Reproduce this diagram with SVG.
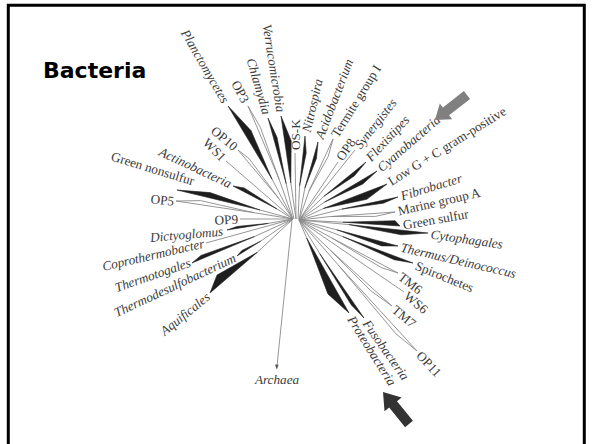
<svg xmlns="http://www.w3.org/2000/svg" width="592" height="444" viewBox="0 0 592 444">
<style>
.t{font-family:"Liberation Serif","DejaVu Serif",serif;font-size:13.2px;fill:#3a3a3a}
.i{font-style:italic}
.e{text-anchor:end}
.ln{stroke:#8a8a8a;stroke-width:0.9;fill:none}
.bw{fill:#1e1e1e;stroke:#1e1e1e;stroke-width:0.6;stroke-linejoin:round}
.ow{fill:#fff;stroke:#8a8a8a;stroke-width:0.9;stroke-linejoin:round}
</style>
<rect x="0" y="0" width="592" height="444" fill="#fff"/>
<path d="M8.3,444 V5.3 H584.3 V444" fill="none" stroke="#000" stroke-width="3"/>
<text x="43" y="78" font-family="'DejaVu Sans',sans-serif" font-weight="bold" font-size="22" fill="#000">Bacteria</text>

<g id="connectors">
  <g class="ln">
    <path d="M293,219L206,243M293,219L240,219M293,219L226,161M296,219L295,153M299,220L338,162M299,220L355,150M299,220L404,292M292,220L277,366"/>
    <path d="M293,219L257.3,252.3M293,219L260.6,241.2M293,219L254.4,236.6M293,219L268.4,223.4M293,219L260,210M293,219L277,209M293,219L272.2,179.5M294,219L286.2,183.7M296,219L290.8,183M298,219L299.6,185.8M299,220L304.8,188.2M299,220L324,196.2M299,220L324.4,202.2M299,220L323.3,208.5M299,220L341.9,209.1M299,220L342.8,222.2M299,220L348.8,224.6M299,220L336.8,229.8M299,220L342.8,236.6M299,220L319.8,253.7M299,220L306.6,237.8"/>
    <path d="M293,219L254,212.7M293,219L278.6,198.3M293,219L279.2,179.5M299,220L309,191M299,220L330.6,216.5M299,220L331.7,237.9M299,220L329.6,249.5M299,220L338.4,265.2"/>
  </g>
  <polygon points="276.8,369.5 275,364.6 278.6,364.8" fill="#555"/>
  <g class="ow">
    <polygon points="254,212.7 176,201 200.6,200.6"/>
    <polygon points="278.6,198.3 238,150 249,158.5"/>
    <polygon points="279.2,179.5 248,106 260.4,127.4"/>
    <polygon points="309,191 333,139 328.3,156.3"/>
    <polygon points="330.6,216.5 395,212 375.4,216.4"/>
    <polygon points="331.7,237.9 398,273 381.3,267.6"/>
    <polygon points="329.6,249.5 392,306 370.8,290.8"/>
    <polygon points="338.4,265.2 417,351 396,333.9"/>
  </g>
  <g class="bw">
    <polygon points="257.3,252.3 210,293 217,275.1"/>
    <polygon points="260.6,241.2 237,256 241.8,250.6"/>
    <polygon points="254.4,236.6 192,263 201,255.4"/>
    <polygon points="268.4,223.4 227,230 237.1,226.4"/>
    <polygon points="260,210 177,190 210,192.6"/>
    <polygon points="277,209 233,186 244.1,187.9"/>
    <polygon points="272.2,179.5 228,106 251,130.6"/>
    <polygon points="286.2,183.7 268,118 277,137.3"/>
    <polygon points="290.8,183 281,116 291.2,140.8"/>
    <polygon points="299.6,185.8 305,136 306.2,152.9"/>
    <polygon points="304.8,188.2 318,142 316.5,158.2"/>
    <polygon points="324,196.2 366,162 354.2,176.1"/>
    <polygon points="324.4,202.2 377,171 362.8,184"/>
    <polygon points="323.3,208.5 387,184 366.8,199.3"/>
    <polygon points="341.9,209.1 398,197 383.3,203.2"/>
    <polygon points="342.8,222.2 400,226 395.1,220.7"/>
    <polygon points="348.8,224.6 428,233 401.2,234.8"/>
    <polygon points="336.8,229.8 398,246 381.7,245.9"/>
    <polygon points="342.8,236.6 413,263 394.2,259.7"/>
    <polygon points="319.8,253.7 364,318 351.3,304.9"/>
    <polygon points="306.6,237.8 349,313 327.9,293.9"/>
  </g>
</g>

<g id="planctomycetes"><text class="t i e" dy="0.35em" transform="translate(226,102) rotate(60)">Planctomycetes</text></g>
<g id="op3"><text class="t e" dy="0.35em" transform="translate(246,102) rotate(62)">OP3</text></g>
<g id="chlamydia"><text class="t i e" dy="0.35em" transform="translate(267,114) rotate(74)">Chlamydia</text></g>
<g id="verrucomicrobia"><text class="t i e" dy="0.35em" transform="translate(281,112) rotate(81)">Verrucomicrobia</text></g>
<g id="op10"><text class="t e" dy="0.35em" transform="translate(236,148) rotate(40)">OP10</text></g>
<g id="ws1"><text class="t e" dy="0.35em" transform="translate(224,159) rotate(45)">WS1</text></g>
<g id="actinobacteria"><text class="t i e" dy="0.35em" transform="translate(231,184) rotate(25)">Actinobacteria</text></g>
<g id="green-nonsulfur"><text class="t e" dy="0.35em" transform="translate(194,181) rotate(17)">Green nonsulfur</text></g>
<g id="op5"><text class="t e" dy="0.35em" transform="translate(174,201) rotate(6)">OP5</text></g>
<g id="op9"><text class="t e" dy="0.35em" transform="translate(238,219) rotate(-3)">OP9</text></g>
<g id="dictyoglomus"><text class="t i e" dy="0.35em" transform="translate(223,231) rotate(-5)">Dictyoglomus</text></g>
<g id="coprothermobacter"><text class="t i e" dy="0.35em" transform="translate(204,243) rotate(-13)">Coprothermobacter</text></g>
<g id="thermotogales"><text class="t i e" dy="0.35em" transform="translate(190,262) rotate(-19)">Thermotogales</text></g>
<g id="thermodesulfobacterium"><text class="t i e" dy="0.35em" transform="translate(235,257) rotate(-25)">Thermodesulfobacterium</text></g>
<g id="aquificales"><text class="t i e" dy="0.35em" transform="translate(208,295) rotate(-39)">Aquificales</text></g>

<g id="os-k"><text class="t" dy="0.35em" transform="translate(295,150) rotate(-90)">OS-K</text></g>
<g id="nitrospira"><text class="t i" dy="0.35em" transform="translate(306,132) rotate(-77)">Nitrospira</text></g>
<g id="acidobacterium"><text class="t i" dy="0.35em" transform="translate(319,138) rotate(-69)">Acidobacterium</text></g>
<g id="termite-group-i"><text class="t" dy="0.35em" transform="translate(334,136) rotate(-58)">Termite group I</text></g>
<g id="op8"><text class="t" dy="0.35em" transform="translate(339,159) rotate(-55)">OP8</text></g>
<g id="synergistes"><text class="t i" dy="0.35em" transform="translate(357,147) rotate(-52)">Synergistes</text></g>
<g id="flexistipes"><text class="t i" dy="0.35em" transform="translate(368,159) rotate(-47)">Flexistipes</text></g>
<g id="cyanobacteria"><text class="t i" dy="0.35em" transform="translate(379,169) rotate(-41)">Cyanobacteria</text></g>
<g id="low-gc"><text class="t" dy="0.35em" transform="translate(389,182) rotate(-32)">Low G + C gram-positive</text></g>
<g id="fibrobacter"><text class="t i" dy="0.35em" transform="translate(401,196) rotate(-17)">Fibrobacter</text></g>
<g id="marine-group-a"><text class="t" dy="0.35em" transform="translate(398,211) rotate(-13)">Marine group A</text></g>
<g id="green-sulfur"><text class="t" dy="0.35em" transform="translate(403,225) rotate(-10)">Green sulfur</text></g>
<g id="cytophagales"><text class="t i" dy="0.35em" transform="translate(431,234) rotate(8)">Cytophagales</text></g>
<g id="thermus"><text class="t i" dy="0.35em" transform="translate(401,247) rotate(13)">Thermus/Deinococcus</text></g>
<g id="spirochetes"><text class="t" dy="0.35em" transform="translate(416,265) rotate(22)">Spirochetes</text></g>
<g id="tm6"><text class="t" dy="0.35em" transform="translate(400,275) rotate(38)">TM6</text></g>
<g id="ws6"><text class="t" dy="0.35em" transform="translate(406,294) rotate(40)">WS6</text></g>
<g id="tm7"><text class="t" dy="0.35em" transform="translate(394,308) rotate(40)">TM7</text></g>
<g id="op11"><text class="t" dy="0.35em" transform="translate(419,353) rotate(47)">OP11</text></g>
<g id="fusobacteria"><text class="t i" dy="0.35em" transform="translate(366,321) rotate(55)">Fusobacteria</text></g>
<g id="proteobacteria"><text class="t i" dy="0.35em" transform="translate(351,317) rotate(58)">Proteobacteria</text></g>
<g id="archaea"><text class="t i" x="277" y="384" text-anchor="middle">Archaea</text></g>

<g id="arrow-gray"><polygon points="435,120 452.2,119.3 449.1,115.3 470.1,98.9 463.9,91.1 442.9,107.5 439.8,103.5" fill="#808080"/></g>
<g id="arrow-black"><polygon points="383,392 401.6,397.5 397,401.2 412.9,420.8 405.1,427.2 389.2,407.6 384.5,411.3" fill="#333"/></g>
</svg>
